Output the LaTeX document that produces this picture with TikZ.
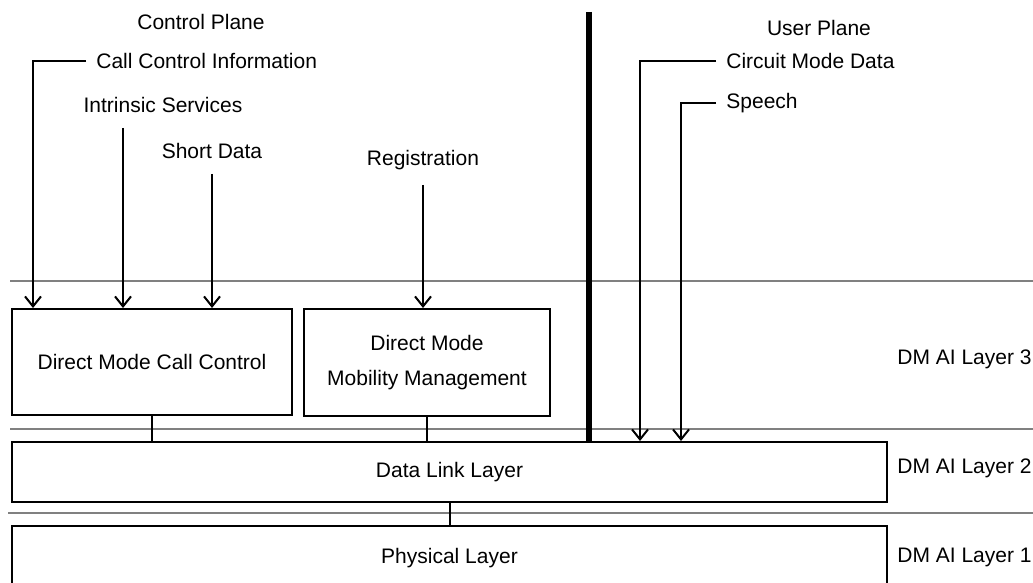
\documentclass[tikz,border=0pt]{standalone}
\usepackage{fontspec}
\setmainfont{Liberation Sans}
\usetikzlibrary{arrows.meta}

\begin{document}
\begin{tikzpicture}[x=0.5pt,y=-0.5pt,
    every node/.style={font=\fontsize{10.5}{17.5}\selectfont},
    layerbox/.style={draw,line width=1pt,inner sep=0pt,align=center},
    sideinfo/.style={anchor=west,inner xsep=5pt},
    sepline/.style={gray,line width=0.6pt},
    feed/.style={line width=1pt,-{Straight Barb[length=5pt,width=8pt]}},
    link/.style={line width=1pt}]
      \useasboundingbox (0,0) rectangle (1033,583) ;
      % layer borders
      \draw[sepline] (10,281)--(1033,281) ;
      \draw[sepline] (10,429)--(1033,429) ;
      \draw[sepline] (8,513)--(1033,513) ;
      % protocol entities
      \node[layerbox,minimum width=140pt,minimum height=53pt] (dmcc) at (152,362) {Direct Mode Call Control} ;
      \node[layerbox,minimum width=123pt,minimum height=53.5pt] (dmmm) at (427,362.5) {Direct Mode\\Mobility Management} ;
      \node[layerbox,minimum width=437.5pt,minimum height=30pt] (dll) at (449.5,472) {Data Link Layer} ;
      \node[layerbox,minimum width=437.5pt,minimum height=32pt] (phys) at (449.5,558) {Physical Layer} ;
      \draw[link] (dmcc.south)--(dmcc.south |- dll.north) ;
      \draw[link] (dmmm.south)--(dmmm.south |- dll.north) ;
      \draw[link] (dll.south)--(dll.south |- phys.north) ;
      % planes
      \node (ctrlplane) at (201,22) {Control Plane} ;
      \node (userplane) at (819,28) {User Plane} ;
      \coordinate (planediv) at (589,12) ;
      \draw[line width=3pt] (planediv)--(planediv |- dll.north) ;
      % control plane services
      \node[sideinfo] (ccinfo) at (86,61) {Call Control Information} ;
      \node (intrinsic) at (163,105) {Intrinsic Services} ;
      \node (shortdata) at (212,151) {Short Data} ;
      \node (registration) at (423,160) {Registration} ;
      \coordinate (isdrop) at ([xshift=-20pt,yshift=-4pt]intrinsic.south) ;
      \draw[feed] (ccinfo.west) -| ([xshift=11pt]dmcc.north west) ;
      \draw[feed] (isdrop)--(isdrop |- dmcc.north) ;
      \draw[feed,shorten <=4pt] (shortdata)--(shortdata |- dmcc.north) ;
      \draw[feed,shorten <=4pt] (registration)--(registration |- dmmm.north) ;
      % user plane services
      \node[sideinfo] (cmdata) at (716,61) {Circuit Mode Data} ;
      \node[sideinfo] (speech) at (716,103) {Speech} ;
      \draw[feed] (cmdata.west) -| ([xshift=314.5pt]dll.north west) ;
      \draw[feed] (speech.west) -| ([xshift=335pt]dll.north west) ;
      % layer names
      \node[sideinfo] (dml3) at (887,359) {DM AI Layer 3} ;
      \node[sideinfo] (dml2) at (887,468) {DM AI Layer 2} ;
      \node[sideinfo] (dml1) at (887,557) {DM AI Layer 1} ;
    \end{tikzpicture}
\end{document}
